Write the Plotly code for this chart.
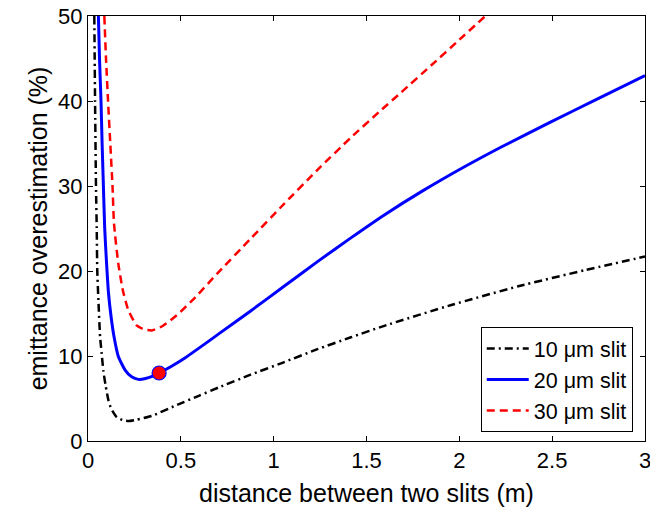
import plotly.graph_objects as go

# Slit separation (m) and emittance overestimation (%) for three slit widths
x_10um = [0.034, 0.036, 0.038, 0.043, 0.047, 0.050, 0.056, 0.065, 0.074, 0.083, 0.095,
          0.110, 0.125, 0.155, 0.19, 0.218, 0.26, 0.343, 0.47, 0.60, 0.704, 0.876,
          1.047, 1.236, 1.416, 1.596, 1.957, 2.317, 2.677, 3.0]
y_10um = [50, 45, 40, 30, 25, 20, 16.6, 12.3, 10.2, 8.2, 6.5,
          4.8, 3.8, 2.8, 2.45, 2.35, 2.5, 2.95, 4.15, 5.35, 6.3, 7.8,
          9.2, 10.8, 12.2, 13.55, 16.0, 18.2, 20.1, 21.7]

x_20um = [0.056, 0.062, 0.070, 0.076, 0.082, 0.090, 0.100, 0.110, 0.125, 0.140, 0.164,
          0.20, 0.235, 0.271, 0.31, 0.345, 0.383, 0.45, 0.524, 0.641, 0.704, 0.876,
          1.056, 1.236, 1.416, 1.596, 1.8, 2.03, 2.218, 2.48, 2.75, 3.0]
y_20um = [50, 45, 40, 35, 30.7, 25, 20.9, 17.5, 14.5, 12.3, 9.9,
          8.35, 7.55, 7.25, 7.35, 7.6, 8.0, 8.8, 9.8, 11.6, 12.6, 15.3,
          18.2, 21.1, 23.9, 26.6, 29.4, 32.3, 34.5, 37.4, 40.3, 43.0]

x_30um = [0.088, 0.097, 0.108, 0.120, 0.132, 0.140, 0.163, 0.187, 0.217, 0.262, 0.30,
          0.343, 0.40, 0.478, 0.578, 0.696, 0.876, 1.056, 1.236, 1.416, 1.572, 1.686,
          1.849, 2.0, 2.14]
y_30um = [50, 45, 40, 35, 30, 25.6, 20.9, 17.8, 15.4, 13.6, 13.15,
          13.0, 13.5, 14.8, 16.9, 19.7, 23.8, 27.9, 31.9, 35.7, 38.8, 41.0,
          44.2, 47.2, 50]

# Highlighted working point on the 20 um curve
x_point = [0.383]
y_point = [8.0]

series_names = ["10 μm slit", "20 μm slit", "30 μm slit"]

font_family = "Liberation Sans, Arial, Helvetica, sans-serif"

fig = go.Figure()
fig.add_trace(go.Scatter(
    x=x_10um, y=y_10um, mode="lines", name=series_names[0],
    line=dict(color="black", width=2.5, dash="8px,4px,2px,4px", shape="spline", smoothing=0.5),
))
fig.add_trace(go.Scatter(
    x=x_20um, y=y_20um, mode="lines", name=series_names[1],
    line=dict(color="#0000ff", width=3, shape="spline", smoothing=0.5),
))
fig.add_trace(go.Scatter(
    x=x_30um, y=y_30um, mode="lines", name=series_names[2],
    line=dict(color="#ff0000", width=2.5, dash="8px,5px", shape="spline", smoothing=0.5),
))
fig.add_trace(go.Scatter(
    x=x_point, y=y_point, mode="markers", showlegend=False,
    marker=dict(color="#ff0000", size=14, line=dict(color="#0000ff", width=1.2)),
))

axis_common = dict(
    showgrid=False, zeroline=False, automargin=False,
    showline=True, linecolor="black", linewidth=1, mirror="ticks",
    ticks="inside", ticklen=5, tickcolor="black", tickwidth=1,
    ticklabeloverflow="allow",
    tickfont=dict(family=font_family, size=22, color="black"),
)

fig.update_layout(
    width=650, height=512,
    margin=dict(l=88, r=5, t=16, b=71),
    paper_bgcolor="white", plot_bgcolor="white",
    font=dict(family=font_family, size=22, color="black"),
    xaxis=dict(
        range=[0, 3], tickvals=[0, 0.5, 1, 1.5, 2, 2.5, 3],
        ticktext=["0", "0.5", "1", "1.5", "2", "2.5", "3"],
        title=dict(text="distance between two slits (m)", standoff=12,
                   font=dict(family=font_family, size=25, color="black")),
        **axis_common,
    ),
    yaxis=dict(
        range=[0, 50], tickvals=[0, 10, 20, 30, 40, 50],
        title=dict(text="emittance overestimation (%)", standoff=3,
                   font=dict(family=font_family, size=25, color="black")),
        **axis_common,
    ),
    legend=dict(
        x=0.978, y=0.021, xanchor="right", yanchor="bottom",
        bgcolor="white", bordercolor="black", borderwidth=1,
        font=dict(family=font_family, size=21.5, color="black"),
        tracegroupgap=0, itemwidth=42,
    ),
    showlegend=True,
)

fig.write_html("out.html")
